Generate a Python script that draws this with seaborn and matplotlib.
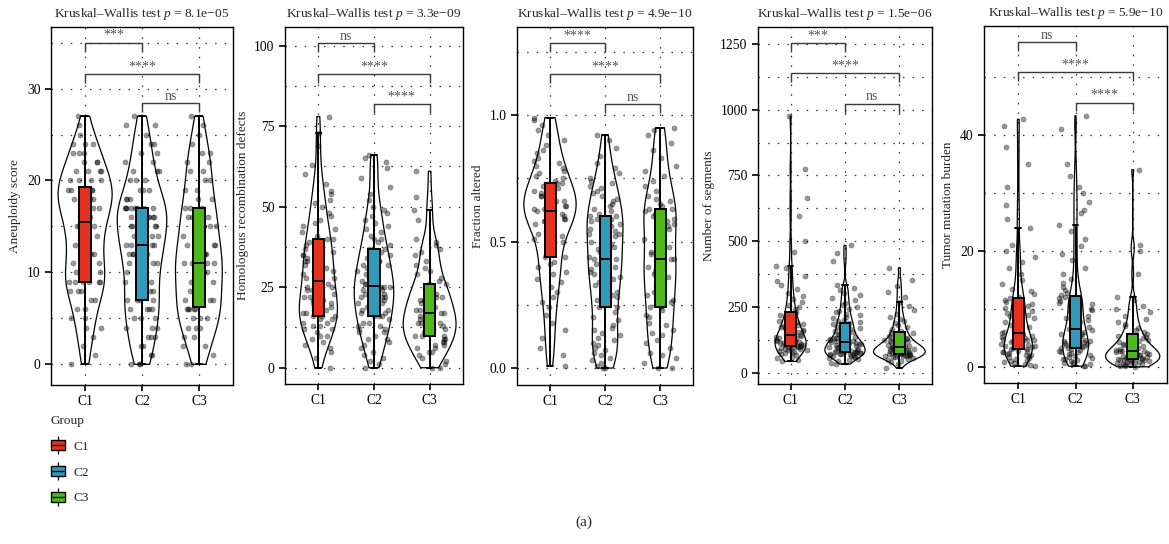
import numpy as np
import pandas as pd
import matplotlib
matplotlib.use("Agg")
import matplotlib.pyplot as plt
from matplotlib.lines import Line2D
from matplotlib.patches import Patch
from matplotlib.legend_handler import HandlerTuple
from matplotlib.ticker import MultipleLocator, FixedLocator
import seaborn as sns

# ---------------- data ----------------
groups = ["C1", "C2", "C3"]
colors = ["#E3321F", "#3399B8", "#4DB81A"]

aneuploidy_C1 = [0, 1, 2, 3, 4, 4, 5, 5, 6, 6, 7, 7, 8, 8, 8, 9, 9, 9, 9, 9, 9,
                 10, 10, 10, 11, 11, 11, 12, 12, 12, 13, 13, 13, 14, 14, 14, 15, 15, 15, 15,
                 16, 16, 16, 17, 17, 17, 17, 17, 18, 18, 18, 18, 18, 19, 19, 19, 19, 19, 19, 19,
                 20, 20, 20, 20, 21, 21, 21, 21, 22, 22, 22, 23, 23, 23, 24, 24, 24, 25, 26, 27]
aneuploidy_C2 = [0, 0, 0, 1, 1, 2, 2, 3, 3, 3, 4, 4, 4, 5, 5, 5, 6, 6, 6, 6, 7, 7, 7, 7,
                 8, 8, 8, 9, 9, 9, 10, 10, 10, 11, 11, 11, 11, 12, 12, 12, 12, 13, 13, 13, 13, 13,
                 14, 14, 14, 14, 15, 15, 15, 15, 15, 16, 16, 16, 16, 16, 17, 17, 17, 17, 17, 17, 17, 17,
                 18, 18, 18, 19, 19, 19, 20, 20, 20, 21, 21, 21, 22, 22, 23, 23, 24, 24, 25, 26, 26, 27]
aneuploidy_C3 = [0, 0, 1, 2, 2, 3, 3, 4, 4, 4, 5, 5, 5, 6, 6, 6, 6, 6,
                 7, 7, 7, 8, 8, 8, 9, 9, 9, 10, 10, 10, 10, 11, 11, 11, 11, 11,
                 12, 12, 12, 13, 13, 13, 14, 14, 14, 15, 15, 15, 16, 16, 16, 17, 17, 17,
                 18, 18, 19, 19, 20, 20, 21, 21, 22, 22, 23, 23, 24, 25, 26, 27]

hrd_C1 = [0, 3, 5, 6, 7, 8, 9, 10, 10, 11, 12, 12, 13, 13, 14, 14, 15, 15, 16, 16,
          16, 17, 17, 18, 18, 19, 19, 20, 20, 21, 21, 22, 22, 23, 23, 24, 24, 25, 25, 26,
          28, 28, 29, 29, 30, 30, 31, 31, 32, 33, 33, 34, 35, 35, 36, 37, 38, 38, 39, 40,
          40, 41, 42, 43, 44, 45, 46, 47, 48, 50, 51, 52, 54, 55, 57, 60, 63, 69, 73, 78]
hrd_C2 = [0, 1, 2, 3, 4, 5, 6, 7, 8, 9, 9, 10, 11, 11, 12, 12, 13, 13, 14, 14, 15, 16, 16,
          16, 17, 17, 18, 18, 19, 19, 20, 20, 21, 21, 22, 22, 22, 23, 23, 24, 24, 24, 25, 25, 25,
          26, 26, 27, 27, 28, 28, 29, 29, 30, 30, 31, 31, 32, 32, 33, 33, 34, 34, 35, 36, 36, 37,
          37, 38, 39, 40, 40, 41, 42, 43, 44, 45, 46, 47, 48, 49, 50, 52, 54, 56, 59, 62, 64, 65, 66]
hrd_C3 = [0, 0, 1, 2, 3, 4, 5, 5, 6, 6, 7, 7, 8, 8, 9, 9, 10, 10,
          10, 11, 11, 12, 12, 13, 13, 13, 14, 14, 14, 15, 15, 15, 16, 16, 17,
          17, 18, 18, 19, 19, 20, 20, 21, 21, 22, 22, 23, 23, 24, 24, 25, 26,
          26, 27, 28, 29, 30, 31, 32, 33, 35, 36, 37, 38, 39, 40, 46, 49, 53, 61]

fraction_C1 = [0.01, 0.05, 0.08, 0.12, 0.15, 0.18, 0.21, 0.24, 0.26, 0.28, 0.30, 0.32, 0.34, 0.35, 0.37, 0.38, 0.40, 0.41, 0.42, 0.44,
               0.44, 0.46, 0.48, 0.50, 0.51, 0.52, 0.53, 0.54, 0.55, 0.56, 0.57, 0.58, 0.58, 0.59, 0.59, 0.60, 0.60, 0.61, 0.61, 0.62,
               0.62, 0.63, 0.63, 0.64, 0.64, 0.65, 0.65, 0.66, 0.66, 0.67, 0.67, 0.68, 0.68, 0.69, 0.69, 0.70, 0.71, 0.71, 0.72, 0.73,
               0.73, 0.74, 0.75, 0.76, 0.77, 0.78, 0.79, 0.80, 0.81, 0.82, 0.83, 0.85, 0.86, 0.88, 0.90, 0.92, 0.94, 0.96, 0.98, 0.99]
fraction_C2 = [0.00, 0.00, 0.01, 0.02, 0.03, 0.04, 0.05, 0.06, 0.07, 0.08, 0.09, 0.10, 0.11, 0.12, 0.13, 0.14, 0.15, 0.16, 0.17, 0.19, 0.20, 0.22, 0.24,
               0.24, 0.25, 0.26, 0.27, 0.28, 0.29, 0.30, 0.31, 0.32, 0.33, 0.34, 0.35, 0.36, 0.37, 0.38, 0.39, 0.40, 0.40, 0.41, 0.42, 0.42, 0.43,
               0.43, 0.44, 0.45, 0.46, 0.47, 0.48, 0.49, 0.50, 0.51, 0.52, 0.53, 0.53, 0.54, 0.55, 0.56, 0.56, 0.57, 0.58, 0.58, 0.59, 0.59, 0.60,
               0.60, 0.61, 0.62, 0.63, 0.64, 0.65, 0.66, 0.67, 0.68, 0.69, 0.70, 0.71, 0.72, 0.73, 0.74, 0.75, 0.77, 0.79, 0.81, 0.84, 0.87, 0.90, 0.92]
fraction_C3 = [0.00, 0.00, 0.02, 0.04, 0.05, 0.06, 0.08, 0.10, 0.11, 0.13, 0.14, 0.15, 0.17, 0.18, 0.20, 0.21, 0.23, 0.24,
               0.24, 0.26, 0.27, 0.29, 0.30, 0.31, 0.33, 0.34, 0.35, 0.36, 0.37, 0.38, 0.39, 0.40, 0.41, 0.42, 0.43,
               0.43, 0.45, 0.46, 0.48, 0.49, 0.51, 0.52, 0.53, 0.55, 0.56, 0.57, 0.58, 0.59, 0.60, 0.61, 0.62, 0.63,
               0.63, 0.64, 0.65, 0.66, 0.67, 0.68, 0.70, 0.72, 0.74, 0.76, 0.78, 0.80, 0.83, 0.86, 0.89, 0.92, 0.94, 0.95]

segments_C1 = [45, 52, 58, 63, 68, 72, 76, 79, 82, 85, 87, 89, 91, 93, 95, 96, 97, 98, 100, 101,
               102, 104, 106, 108, 110, 112, 114, 116, 118, 120, 122, 124, 126, 128, 130, 132, 135, 137, 140, 143,
               147, 150, 153, 156, 159, 162, 166, 170, 174, 178, 182, 186, 190, 195, 200, 205, 210, 216, 222, 230,
               234, 242, 250, 260, 270, 280, 292, 305, 320, 335, 350, 370, 400, 405, 460, 500, 595, 665, 775, 975]
segments_C2 = [35, 40, 45, 50, 54, 57, 60, 62, 64, 66, 68, 70, 72, 73, 74, 75, 76, 77, 78, 79, 80, 81, 82,
               83, 85, 87, 89, 91, 93, 95, 97, 99, 100, 102, 104, 106, 108, 110, 111, 112, 113, 115, 116, 118, 119,
               121, 123, 126, 129, 132, 135, 138, 141, 144, 147, 150, 153, 156, 160, 164, 168, 172, 176, 180, 184, 188, 191,
               193, 198, 203, 208, 214, 220, 226, 232, 238, 245, 252, 260, 268, 276, 285, 295, 305, 315, 325, 335, 425, 455, 485]
segments_C3 = [20, 35, 42, 48, 52, 55, 58, 60, 62, 64, 66, 67, 68, 69, 70, 71, 72, 73,
               74, 76, 78, 80, 82, 84, 86, 87, 88, 90, 91, 92, 94, 95, 97, 98, 100,
               102, 104, 106, 108, 110, 112, 115, 118, 121, 124, 127, 130, 134, 138, 143, 148, 154,
               156, 162, 168, 175, 182, 190, 198, 206, 215, 225, 240, 255, 270, 290, 310, 330, 355, 400]

tmb_C1 = [0.1, 0.3, 0.5, 0.7, 0.9, 1.0, 1.2, 1.4, 1.5, 1.7, 1.8, 2.0, 2.1, 2.2, 2.4, 2.5, 2.6, 2.7, 2.8, 3.0,
          3.1, 3.2, 3.4, 3.5, 3.6, 3.8, 3.9, 4.0, 4.2, 4.3, 4.4, 4.6, 4.7, 4.8, 5.0, 5.1, 5.3, 5.4, 5.6, 5.8,
          6.0, 6.3, 6.6, 6.9, 7.2, 7.5, 7.8, 8.1, 8.4, 8.7, 9.0, 9.3, 9.6, 9.9, 10.2, 10.5, 10.8, 11.1, 11.5, 11.8,
          12.0, 12.5, 13.0, 13.5, 14.2, 15.0, 16.0, 17.0, 18.0, 19.0, 20.0, 21.0, 24.0, 25.5, 28.0, 31.0, 35.0, 38.0, 41.5, 42.7]
tmb_C2 = [0.1, 0.2, 0.4, 0.5, 0.7, 0.8, 1.0, 1.1, 1.3, 1.4, 1.6, 1.7, 1.9, 2.0, 2.2, 2.3, 2.5, 2.6, 2.8, 2.9, 3.0, 3.2, 3.3,
          3.4, 3.5, 3.7, 3.8, 3.9, 4.1, 4.2, 4.4, 4.5, 4.7, 4.8, 5.0, 5.1, 5.3, 5.4, 5.6, 5.7, 5.9, 6.0, 6.2, 6.3, 6.4,
          6.6, 6.9, 7.2, 7.5, 7.8, 8.1, 8.4, 8.7, 9.0, 9.3, 9.6, 9.8, 10.0, 10.3, 10.5, 10.8, 11.0, 11.3, 11.5, 11.7, 11.9, 12.1,
          12.3, 12.8, 13.3, 13.8, 14.5, 15.2, 16.0, 17.0, 18.5, 19.5, 20.8, 22.0, 23.5, 24.5, 26.5, 27.0, 28.5, 30.0, 31.0, 33.0, 35.0, 41.0, 43.3]
tmb_C3 = [0.0, 0.1, 0.2, 0.3, 0.4, 0.5, 0.6, 0.7, 0.8, 0.8, 0.9, 1.0, 1.0, 1.1, 1.2, 1.2, 1.3, 1.4,
          1.4, 1.5, 1.6, 1.7, 1.8, 1.9, 2.0, 2.0, 2.1, 2.2, 2.3, 2.4, 2.5, 2.5, 2.6, 2.7, 2.8,
          2.8, 2.9, 3.0, 3.2, 3.3, 3.5, 3.6, 3.8, 3.9, 4.1, 4.3, 4.5, 4.7, 4.9, 5.1, 5.3, 5.5,
          5.7, 6.0, 6.3, 6.7, 7.0, 7.4, 7.8, 8.3, 8.8, 9.5, 10.0, 10.5, 11.5, 12.0, 16.0, 20.0, 21.0, 34.0]

y_labels = ["Aneuploidy score", "Homologous recombination defects", "Fraction altered",
            "Number of segments", "Tumor mutation burden"]
p_values = ["8.1e\u221205", "3.3e\u221209", "4.9e\u221210", "1.5e\u221206", "5.9e\u221210"]
sig_labels = [["***", "****", "ns"], ["ns", "****", "****"], ["****", "****", "ns"],
              ["***", "****", "ns"], ["ns", "****", "****"]]
series = [(aneuploidy_C1, aneuploidy_C2, aneuploidy_C3),
          (hrd_C1, hrd_C2, hrd_C3),
          (fraction_C1, fraction_C2, fraction_C3),
          (segments_C1, segments_C2, segments_C3),
          (tmb_C1, tmb_C2, tmb_C3)]

# ---------------- layout / style ----------------
sns.set_theme(style="ticks")
plt.rcParams["font.family"] = ["Liberation Serif", "DejaVu Serif"]
plt.rcParams["mathtext.fontset"] = "custom"
plt.rcParams["mathtext.rm"] = "Liberation Serif"
plt.rcParams["mathtext.it"] = "Liberation Serif:italic"

W, H = 1169, 544
fig = plt.figure(figsize=(W / 100, H / 100), dpi=100)

panel_px = [(51, 233, 27, 385), (285, 463, 27, 384), (517, 693, 27, 385),
            (758, 932, 27, 384), (984, 1167, 26, 383)]
ylims = [(-2.25, 36.7), (-5.06, 105.8), (-0.067, 1.348), (-40.6, 1313), (-2.8, 58.8)]
major = [10, 25, 0.5, 250, 20]
yticks = [[0, 10, 20, 30], [0, 25, 50, 75, 100], [0, 0.5, 1.0],
          [0, 250, 500, 750, 1000, 1250], [0, 20, 40]]
ytick_text = [None, None, ["0.0", "0.5", "1.0"], None, None]
bracket_y = [(35.0, 31.6, 28.4), (100.7, 91.2, 81.9), (1.283, 1.162, 1.042),
             (1251, 1138, 1021), (56.0, 50.8, 45.6)]
bw_adj = [0.75, 0.75, 0.75, 0.5, 0.5]
pairs = [(0, 1), (0, 2), (1, 2)]

np.random.seed(7)
grid_style = dict(color="#333333", linestyle=(0, (1.2, 6.5)), linewidth=0.9)

for k in range(5):
    l, r, t, b = panel_px[k]
    ax = fig.add_axes([l / W, 1 - b / H, (r - l) / W, (b - t) / H])
    vals = series[k]
    df = pd.DataFrame({
        "group": np.concatenate([[g] * len(v) for g, v in zip(groups, vals)]),
        "value": np.concatenate([np.asarray(v, float) for v in vals]),
    })
    ax.set_axisbelow(True)
    sns.violinplot(data=df, x="group", y="value", order=groups, color="black", fill=False,
                   inner=None, cut=0, width=0.95, linewidth=0.9, density_norm="area",
                   bw_adjust=bw_adj[k], ax=ax)
    sns.stripplot(data=df, x="group", y="value", order=groups, color="black", alpha=0.4,
                  size=3.7, jitter=0.3, linewidth=0.4, edgecolor="black", ax=ax)
    n_lines = len(ax.lines)
    n_patches = len(ax.patches)
    sns.boxplot(data=df, x="group", y="value", order=groups, hue="group", hue_order=groups,
                palette=colors, saturation=1, width=0.2, showfliers=False, linewidth=1.4,
                linecolor="black", legend=False, ax=ax)
    for art in ax.patches[n_patches:]:
        art.set_zorder(5)
    for art in ax.lines[n_lines:]:
        art.set_zorder(6)

    ax.set_xlim(-0.6, 2.6)
    ax.set_ylim(*ylims[k])
    ax.yaxis.set_major_locator(FixedLocator(yticks[k]))
    ax.yaxis.set_minor_locator(MultipleLocator(major[k] / 2))
    if ytick_text[k]:
        ax.set_yticklabels(ytick_text[k])
    ax.grid(True, axis="y", which="both", **grid_style)
    ax.grid(True, axis="x", which="major", **grid_style)
    ax.tick_params(axis="both", which="major", direction="out", length=4.5, width=1.2,
                   labelsize=9.8, colors="black", pad=3)
    ax.tick_params(axis="y", which="minor", length=0)
    ax.set_xlabel("")
    ax.set_ylabel(y_labels[k], fontsize=9.5, labelpad=4)
    for s in ax.spines.values():
        s.set_visible(True)
        s.set_linewidth(1.0)
        s.set_color("black")
    ax.set_title("Kruskal\u2013Wallis test $p$ = " + p_values[k], fontsize=9.6, pad=7)

    # significance brackets
    drop = 0.025 * (ylims[k][1] - ylims[k][0])
    for (i, j), yb, lab in zip(pairs, bracket_y[k], sig_labels[k]):
        ax.plot([i, i, j, j], [yb - drop, yb, yb, yb - drop], color="#3a3a3a", lw=1.0,
                zorder=7, solid_capstyle="butt")
        ax.annotate(lab, xy=((i + j) / 2, yb), xytext=(0, 0.5), textcoords="offset points",
                    ha="center", va="bottom", fontsize=10, color="#555555")

# legend
handles = []
for c in colors:
    handles.append((Line2D([0], [0], marker="|", markersize=13, color="black", linestyle="none",
                           markeredgewidth=0.9),
                    Patch(facecolor=c, edgecolor="black", linewidth=1.0),
                    Line2D([0], [0], marker="_", markersize=9, color="black", linestyle="none",
                           markeredgewidth=1.0)))
fig.legend(handles, groups, title="Group", loc="upper left", bbox_to_anchor=(39 / W, 1 - 403 / H),
           frameon=False, fontsize=9.5, title_fontsize=9.5, alignment="left",
           handlelength=1.1, handleheight=0.8, handletextpad=0.6, labelspacing=1.0,
           handler_map={tuple: HandlerTuple(ndivide=1)})

fig.text(584 / W, 1 - 522 / H, "(a)", ha="center", va="center", fontsize=11)

fig.savefig("out.png", dpi=100)
